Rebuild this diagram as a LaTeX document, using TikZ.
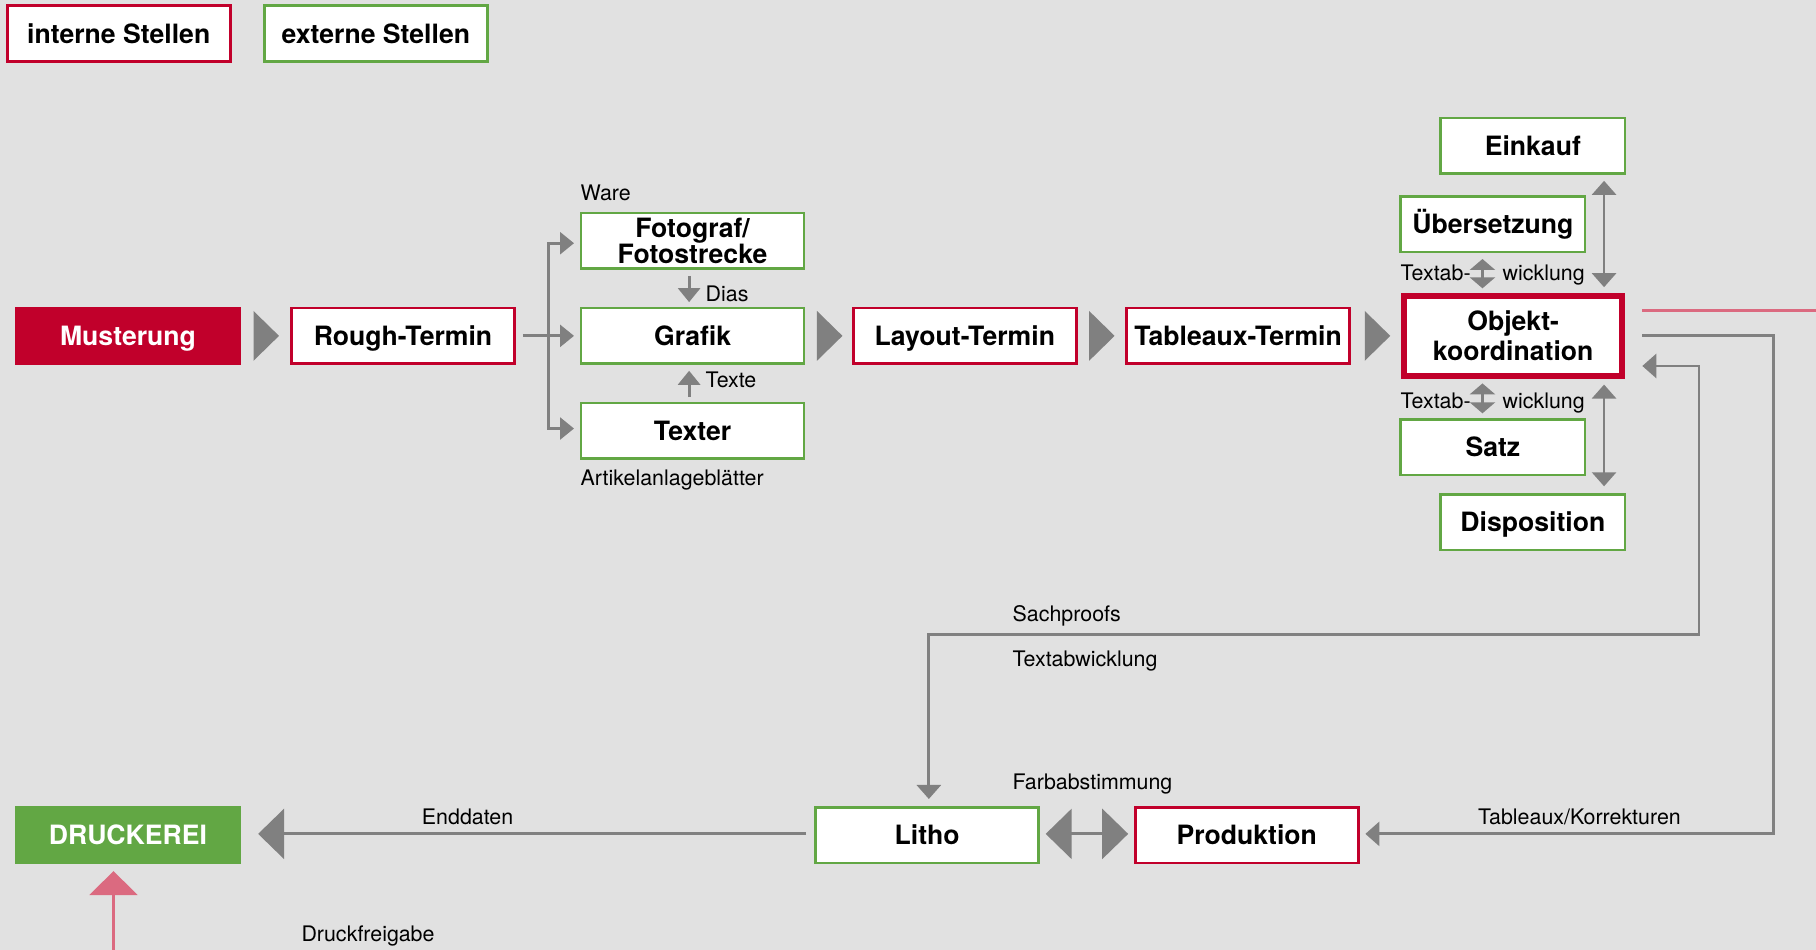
\documentclass[tikz,border=0pt]{standalone}
\usepackage{fontspec}
\setmainfont{TeX Gyre Heros}
\usetikzlibrary{arrows.meta,calc}
\definecolor{bg}{HTML}{E1E1E1}
\definecolor{cred}{HTML}{C1002B}
\definecolor{cgreen}{HTML}{62A744}
\definecolor{cgrey}{HTML}{808080}
\definecolor{cpink}{HTML}{DB6A80}
\begin{document}
\begin{tikzpicture}[x=0.5791pt,y=-0.5791pt,
  mbox/.style={draw, fill=white, line width=1.3pt, minimum width=111.5pt, minimum height=27.8pt, inner sep=0pt, font=\fontsize{13.3}{15}\selectfont\bfseries, align=center},
  box/.style={mbox, text height=9.6pt, text depth=0pt},
  ibox/.style={box, draw=cred},
  ebox/.style={box, draw=cgreen},
  lbl/.style={font=\fontsize{10.7}{12}\selectfont, inner sep=0pt, anchor=base west},
  conn/.style={draw=cgrey, line width=1.4pt},
  arr/.style={conn, -{Triangle[length=7pt,width=11pt]}},
  arrb/.style={conn, {Triangle[length=7pt,width=12pt]}-{Triangle[length=7pt,width=12pt]}},
  arrs/.style={conn, {Triangle[length=5.5pt,width=12.5pt]}-{Triangle[length=5.5pt,width=12.5pt]}},
  big/.style={draw=cgrey, line width=1.4pt},
  bigboth/.style={big, {Triangle[length=13pt,width=25pt]}-{Triangle[length=13pt,width=25pt]}},
  bigend/.style={big, -{Triangle[length=13pt,width=25pt]}},
]
\fill[bg] (0,0) rectangle (1568,820);
\useasboundingbox (0,0) rectangle (1568,820);

% legend
\node[ibox] (intern) at (102.5,29) {interne Stellen};
\node[ebox] (extern) at (324.5,29) {externe Stellen};

% row 1
\node[box, draw=cred, fill=cred, text=white] (must) at (110.5,290) {Musterung};
\node[ibox] (rough) at (348,290) {Rough-Termin};
\node[mbox, draw=cgreen, font=\fontsize{13.3}{12.7}\selectfont\bfseries] (foto) at (598,208) {Fotograf/\\Fotostrecke};
\node[ebox] (grafik) at (598,290) {Grafik};
\node[ebox] (texter) at (598,372) {Texter};
\node[ibox] (layout) at (833,290) {Layout-Termin};
\node[ibox] (tabl) at (1069,290) {Tableaux-Termin};
\node[mbox, draw=cred, line width=3pt, minimum width=108.8pt, minimum height=39.9pt] (obj) at (1306.5,290) {Objekt-\\koordination};
\node[ebox, minimum width=92.3pt] (einkauf) at (1323.5,126) {Einkauf};
\node[ebox, minimum width=92.3pt] (uebers) at (1289,193.5) {Übersetzung};
\node[ebox, minimum width=92.3pt] (satz) at (1289,386) {Satz};
\node[ebox, minimum width=92.3pt] (dispo) at (1323.5,451) {Disposition};

% row 2
\node[ebox] (litho) at (800.5,721) {Litho};
\node[ibox] (prod) at (1076.5,721) {Produktion};
\node[box, draw=cgreen, fill=cgreen, text=white] (druck) at (110.5,721) {DRUCKEREI};

% big triangles row 1
\fill[cgrey] ($(must.east)+(11,-21.5)$) -- ++(22,21.5) -- ++(-22,21.5) -- cycle;
\fill[cgrey] ($(grafik.east)+(10,-21.5)$) -- ++(22,21.5) -- ++(-22,21.5) -- cycle;
\fill[cgrey] ($(layout.east)+(10,-21.5)$) -- ++(22,21.5) -- ++(-22,21.5) -- cycle;
\fill[cgrey] ($(tabl.east)+(12,-21.5)$) -- ++(22,21.5) -- ++(-22,21.5) -- cycle;

% branch from Rough-Termin
\coordinate (br) at ($(rough.east)+(28,0)$);
\draw[conn] ($(rough.east)+(6,0)$) -- (br);
\draw[arr] (br) -- ($(grafik.west)+(-5,0)$);
\draw[arr] (br) |- ($(foto.west)+(-5,2)$);
\draw[arr] (br) |- ($(texter.west)+(-5,-2)$);

% Dias / Texte
\draw[arr] ($(foto.south)+(-3,5)$) -- ($(grafik.north)+(-3,-4)$);
\draw[arr] ($(texter.north)+(-3,-4)$) -- ($(grafik.south)+(-3,5)$);
\node[lbl] at (609,260.5) {Dias};
\node[lbl] at (609,334.5) {Texte};
\node[lbl] at (501,173.5) {Ware};
\node[lbl] at (501,419.5) {Artikelanlageblätter};

% Objektkoordination neighbours
\draw[arrb] ($(einkauf.south)+(61.5,5)$) -- ($(obj.north)+(78.5,-5)$);
\draw[arrs] ($(uebers.south)+(-9,5)$) -- ($(obj.north)+(-26.5,-4)$);
\draw[arrs] ($(obj.south)+(-26.5,4)$) -- ($(satz.north)+(-9,-4)$);
\draw[arrb] ($(obj.south)+(78.5,5)$) -- ($(dispo.north)+(61.5,-6)$);
\node[lbl] at (1209,242.5) {Textab-};
\node[lbl] at (1297,242.5) {wicklung};
\node[lbl] at (1209,352.5) {Textab-};
\node[lbl] at (1297,352.5) {wicklung};

% right-hand connectors
\coordinate (pinkend) at (1568,268);
\draw[cpink, line width=1.2pt] ($(obj.east)+(15,-22)$) -- (pinkend);
\draw[conn, -{Triangle[length=7pt,width=12pt]}] ($(obj.east)+(15,0)$) -- (1531,290) |- ($(prod.east)+(5,-1)$);
\draw[arrb] ($(obj.east)+(15,26)$) -| (1467,548) -| ($(litho.north)+(1.5,-6)$);
\node[lbl] at (874,536.5) {Sachproofs};
\node[lbl] at (874,575.5) {Textabwicklung};
\node[lbl] at (874,681.5) {Farbabstimmung};
\node[lbl] at (1276,711.5) {Tableaux/Korrekturen};

% bottom row connectors
\draw[bigboth] ($(litho.east)+(5,-1)$) -- ($(prod.west)+(-5,-1)$);
\draw[bigend] ($(litho.west)+(-7,-1)$) -- ($(druck.east)+(15,-1)$);
\node[lbl] at (364,711.5) {Enddaten};

\coordinate (pinkstart) at (98,820);
\draw[cpink, line width=1.2pt, -{Triangle[length=12pt,width=24pt]}] (pinkstart) -- ($(druck.south)+(-12.5,6)$);
\node[lbl] at (260,812.5) {Druckfreigabe};
\end{tikzpicture}
\end{document}
